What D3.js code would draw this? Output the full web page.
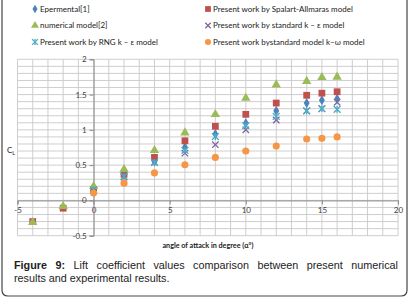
<!DOCTYPE html>
<html>
<head>
<meta charset="utf-8">
<script src="https://cdn.jsdelivr.net/npm/d3@7"></script>
<style>
  body { margin: 0; background: #fff; }
  #wrap { position: relative; width: 410px; height: 298px; overflow: hidden; }
  #caption {
    position: absolute; left: 14px; top: 259px; width: 384px;
    font-family: "Liberation Sans", Arial, sans-serif; font-size: 10.8px; line-height: 12.7px;
    color: #222;
  }
  #caption .l1 { text-align: justify; text-align-last: justify; white-space: nowrap; }
  #caption b { font-weight: bold; }
</style>
</head>
<body>
<div id="wrap">
  <svg id="chart" width="410" height="298"></svg>
  <div id="caption">
    <div class="l1"><b>Figure 9:</b> Lift coefficient values comparison between present numerical</div>
    <div>results and experimental results.</div>
  </div>
</div>
<script>
// ---- data ----
const alpha = [-4, -2, 0, 2, 4, 6, 8, 10, 12, 14, 15, 16];

const experimental = [null, null, 0.16, 0.37, 0.55, 0.755, 0.94, 1.095, 1.27, 1.38, 1.42, 1.44];
const spalart      = [-0.30, -0.11, 0.15, 0.37, 0.61, 0.845, 1.05, 1.22, 1.38, 1.49, 1.52, 1.54];
const numerical    = [-0.31, -0.085, 0.20, 0.44, 0.71, 0.96, 1.22, 1.45, 1.64, 1.69, 1.745, 1.75];
const standardKE   = [null, null, 0.15, 0.33, 0.54, 0.67, 0.79, 1.0, 1.14, 1.27, 1.30, 1.39];
const rngKE        = [null, null, 0.15, 0.34, 0.54, 0.71, 0.905, 1.06, 1.19, 1.27, 1.30, 1.29];
const kOmega       = [null, null, 0.105, 0.245, 0.39, 0.505, 0.61, 0.70, 0.77, 0.87, 0.88, 0.90];

const seriesNames = [
  'Epermental[1]',
  'Present work by Spalart-Allmaras model',
  'numerical model[2]',
  'Present work by standard k \u2013 \u03b5 model',
  'Present work by RNG k \u2013 \u03b5 model',
  'Present work bystandard model k\u2013\u03c9 model'
];
const seriesValues = [experimental, spalart, numerical, standardKE, rngKE, kOmega];

const xTicks = [-5, 0, 5, 10, 15, 20];
const xTickLabels = ['-5', '0', '5', '10', '15', '20'];
const yTicks = [-0.5, 0, 0.5, 1, 1.5, 2];
const yTickLabels = ['-0.5', '0', '0.5', '1', '1.5', '2'];

// ---- styling ----
const markers = [
  { type: d3.symbolDiamond, size: 30, fill: '#4f81bd' },
  { type: d3.symbolSquare,  size: 46, fill: '#c0504d' },
  { type: d3.symbolTriangle, size: 38, fill: '#9bbb59' },
  { type: 'x',    size: 3.2, stroke: '#8064a2' },
  { type: 'star', size: 3.4, stroke: '#4bacc6' },
  { type: d3.symbolCircle,  size: 40, fill: '#f79646' }
];

const svg = d3.select('#chart');

// figure frame (open at top, rounded bottom)
svg.append('path')
  .attr('d', 'M2,0 V290 Q2,296 8,296 H401 Q407,296 407,290 V0')
  .attr('fill', 'none')
  .attr('stroke', '#444')
  .attr('stroke-width', 1.2);

const x = d3.scaleLinear().domain([-5, 20]).range([17.5, 398]);
const y = d3.scaleLinear().domain([-0.5, 2]).range([235.7, 59.3]);

// gridlines
const grid = svg.append('g');
grid.selectAll('.vg')
  .data(d3.range(-5, 21, 1))
  .join('line')
  .attr('x1', d => x(d)).attr('x2', d => x(d))
  .attr('y1', y(2)).attr('y2', y(-0.5))
  .attr('stroke', '#c8c8c8').attr('stroke-width', 0.9);
grid.selectAll('.hg')
  .data(d3.range(-5, 21, 1).map(d => d / 10))
  .join('line')
  .attr('x1', x(-5)).attr('x2', x(20))
  .attr('y1', d => y(d)).attr('y2', d => y(d))
  .attr('stroke', '#c8c8c8').attr('stroke-width', 0.9);

// axes through the origin
const xAxis = svg.append('g')
  .attr('transform', `translate(0,${y(0)})`)
  .call(d3.axisBottom(x).tickValues(xTicks).tickSize(4).tickPadding(3)
    .tickFormat((d, i) => xTickLabels[i]));
const yAxis = svg.append('g')
  .attr('transform', `translate(${x(0)},0)`)
  .call(d3.axisLeft(y).tickValues(yTicks).tickSize(4).tickPadding(3)
    .tickFormat((d, i) => yTickLabels[i]));

[xAxis, yAxis].forEach(a => {
  a.select('.domain').attr('stroke', '#8c8c8c');
  a.selectAll('.tick line').attr('stroke', '#8c8c8c');
  a.selectAll('text')
    .attr('fill', '#404040')
    .style('font-family', 'Lato, "Open Sans", sans-serif')
    .style('font-size', '8px');
});

// draws one marker at (cx, cy)
function drawMarker(g, m, cx, cy, scale = 1) {
  if (m.type === 'x' || m.type === 'star') {
    const r = m.size * scale;
    const s = g.append('g').attr('transform', `translate(${cx},${cy})`)
      .attr('stroke', m.stroke).attr('stroke-width', 1.3).attr('fill', 'none');
    s.append('line').attr('x1', -r).attr('y1', -r).attr('x2', r).attr('y2', r);
    s.append('line').attr('x1', -r).attr('y1', r).attr('x2', r).attr('y2', -r);
    if (m.type === 'star') {
      s.append('line').attr('x1', 0).attr('y1', -r).attr('x2', 0).attr('y2', r);
    }
  } else {
    g.append('path')
      .attr('transform', `translate(${cx},${cy})`)
      .attr('d', d3.symbol().type(m.type).size(m.size * scale * scale)())
      .attr('fill', m.fill);
  }
}

// data points
const plot = svg.append('g');
seriesValues.forEach((vals, i) => {
  const pts = alpha.map((a, j) => ({ a, v: vals[j] })).filter(d => d.v !== null);
  pts.forEach(d => drawMarker(plot, markers[i], x(d.a), y(d.v)));
});

// legend (2 columns x 3 rows)
const legend = svg.append('g')
  .style('font-family', 'Lato, "Open Sans", sans-serif')
  .style('font-size', '8px')
  .attr('fill', '#222');
const legX = [35, 208];
const legY = [9, 25.5, 42];
seriesNames.forEach((name, i) => {
  const lx = legX[i % 2], ly = legY[Math.floor(i / 2)];
  drawMarker(legend, markers[i], lx, ly, 0.85);
  legend.append('text')
    .attr('x', lx + 5).attr('y', ly)
    .attr('dy', '0.35em')
    .text(name);
});

// axis titles
const yt = svg.append('text')
  .attr('x', 7).attr('y', 153)
  .attr('fill', '#222')
  .style('font-family', 'Lato, "Open Sans", sans-serif')
  .style('font-size', '8px');
yt.append('tspan').text('C');
yt.append('tspan').attr('dy', 2).style('font-size', '5.5px').text('L');

svg.append('text')
  .attr('x', 208).attr('y', 248)
  .attr('text-anchor', 'middle')
  .attr('fill', '#222')
  .style('font-family', 'Lato, "Open Sans", sans-serif')
  .style('font-size', '7.2px')
  .style('font-weight', 'bold')
  .text('angle of attack in degree (\u03b1\u00b0)');
</script>
</body>
</html>
